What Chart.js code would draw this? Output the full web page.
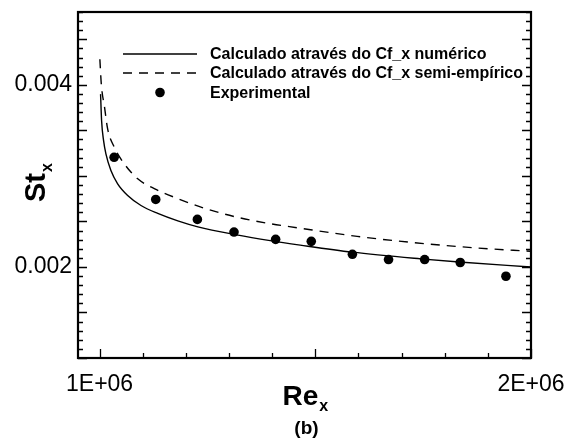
<!DOCTYPE html>
<html>
<head>
<meta charset="utf-8">
<script src="https://cdn.jsdelivr.net/npm/chart.js@4/dist/chart.umd.min.js"></script>
<style>
  html, body { margin: 0; padding: 0; background: #fff; }
  #wrap { width: 576px; height: 440px; }
</style>
</head>
<body>
<div id="wrap"><canvas id="stChart"></canvas></div>
<script>
// St_x vs Re_x
const reNum = [1.0023e6, 1.0047e6, 1.0093e6, 1.0147e6, 1.0263e6, 1.0419e6, 1.0651e6, 1.0960e6, 1.1349e6,
               1.1814e6, 1.2279e6, 1.3179e6, 1.3954e6, 1.4651e6, 1.5853e6, 1.7442e6, 1.8333e6, 2.0e6];
const stNum = [0.003898, 0.003606, 0.003387, 0.003241, 0.003059, 0.002913, 0.002785, 0.002675, 0.002588,
               0.002506, 0.002440, 0.002352, 0.002289, 0.002240, 0.002163, 0.002089, 0.002054, 0.002000];

const reSemi = [1.0007e6, 1.0040e6, 1.0116e6, 1.0186e6, 1.0342e6, 1.0574e6, 1.0884e6, 1.1279e6, 1.1744e6,
                1.2442e6, 1.3179e6, 1.3954e6, 1.4574e6, 1.5970e6, 1.7286e6, 1.8760e6, 2.0e6];
const stSemi = [0.004281, 0.004008, 0.003752, 0.003518, 0.003314, 0.003132, 0.002968, 0.002858, 0.002763,
                0.002643, 0.002547, 0.002475, 0.002431, 0.002336, 0.002267, 0.002208, 0.002172];

const reExp = [1.0337e6, 1.1302e6, 1.2267e6, 1.3116e6, 1.4081e6, 1.4907e6, 1.5860e6, 1.6698e6, 1.7535e6, 1.8360e6, 1.9419e6];
const stExp = [0.003204, 0.002741, 0.002522, 0.002383, 0.002303, 0.002281, 0.002139, 0.002081, 0.002081, 0.002049, 0.001898];

const seriesLabels = ['Calculado através do Cf_x numérico', 'Calculado através do Cf_x semi-empírico', 'Experimental'];
const xTickLabels = [1e6, 2e6];
const yTickLabels = [0.002, 0.004];

function pts(xs, ys) {
  return xs.map((x, i) => ({ x: x, y: ys[i] }));
}

function fmtX(v) {
  return (Math.round(v / 1e6)) + 'E+06';
}

// frame, inward ticks, axis titles and the legend box
const decor = {
  id: 'decor',
  afterDraw(chart) {
    const ctx = chart.ctx;
    const a = chart.chartArea;
    const xs = chart.scales.x, ys = chart.scales.y;
    ctx.save();
    ctx.strokeStyle = '#000';
    ctx.fillStyle = '#000';

    ctx.lineWidth = 1.3;
    for (let k = 10; k <= 48; k++) {
      const py = Math.round(ys.getPixelForValue(k / 10000)) + 0.5;
      const len = (k % 5 === 0) ? 9 : 5;
      ctx.beginPath();
      ctx.moveTo(a.left, py); ctx.lineTo(a.left + len, py);
      ctx.moveTo(a.right, py); ctx.lineTo(a.right - len, py);
      ctx.stroke();
    }
    for (let k = 10; k <= 20; k++) {
      const px = Math.round(xs.getPixelForValue(k * 1e5)) + 0.5;
      const len = (k % 5 === 0) ? 9 : 5;
      ctx.beginPath();
      ctx.moveTo(px, a.bottom); ctx.lineTo(px, a.bottom - len);
      ctx.stroke();
    }

    ctx.lineWidth = 2.2;
    ctx.strokeRect(a.left, a.top, a.right - a.left, a.bottom - a.top);

    // axis titles
    ctx.textAlign = 'left';
    ctx.textBaseline = 'alphabetic';
    ctx.font = 'bold 28px "Liberation Sans", Arial, sans-serif';
    const reW = ctx.measureText('Re').width;
    const cx = (a.left + a.right) / 2 + 2;
    ctx.fillText('Re', cx - 24, 405);
    ctx.font = 'bold 16px "Liberation Sans", Arial, sans-serif';
    ctx.fillText('x', cx - 24 + reW + 1, 411);
    ctx.font = 'bold 19px "Liberation Sans", Arial, sans-serif';
    ctx.textAlign = 'center';
    ctx.fillText('(b)', cx, 434);

    ctx.save();
    ctx.translate(45, 202);
    ctx.rotate(-Math.PI / 2);
    ctx.textAlign = 'left';
    ctx.font = 'bold 29px "Liberation Sans", Arial, sans-serif';
    const stW = ctx.measureText('St').width;
    ctx.fillText('St', 0, 0);
    ctx.font = 'bold 16px "Liberation Sans", Arial, sans-serif';
    ctx.fillText('x', stW + 1, 7);
    ctx.restore();

    // legend
    const rows = [54, 73, 92.5];
    ctx.font = 'bold 16px "Liberation Sans", Arial, sans-serif';
    ctx.textAlign = 'left';
    ctx.textBaseline = 'middle';
    ctx.lineWidth = 1.4;
    ctx.beginPath();
    ctx.moveTo(123, rows[0]); ctx.lineTo(197, rows[0]);
    ctx.stroke();
    ctx.setLineDash([9, 7]);
    ctx.beginPath();
    ctx.moveTo(123, rows[1]); ctx.lineTo(197, rows[1]);
    ctx.stroke();
    ctx.setLineDash([]);
    ctx.beginPath();
    ctx.arc(160, rows[2], 4.8, 0, Math.PI * 2);
    ctx.fill();
    seriesLabels.forEach((t, i) => ctx.fillText(t, 210, rows[i] + 1));
    ctx.restore();
  }
};

const config = {
  type: 'scatter',
  data: {
    datasets: [{
      label: seriesLabels[0],
      data: pts(reNum, stNum),
      showLine: true,
      borderColor: '#000',
      borderWidth: 1.4,
      pointRadius: 0,
      cubicInterpolationMode: 'monotone'
    }, {
      label: seriesLabels[1],
      data: pts(reSemi, stSemi),
      showLine: true,
      borderColor: '#000',
      borderWidth: 1.4,
      borderDash: [9, 7],
      pointRadius: 0,
      cubicInterpolationMode: 'monotone'
    }, {
      label: seriesLabels[2],
      data: pts(reExp, stExp),
      showLine: false,
      backgroundColor: '#000',
      borderColor: '#000',
      pointRadius: 4.8,
      pointBorderWidth: 0
    }]
  },
  options: {
    responsive: true,
    maintainAspectRatio: false,
    animation: false,
    layout: { padding: { left: 0, right: 45, top: 12, bottom: 0 } },
    plugins: {
      legend: { display: false },
      tooltip: { enabled: false }
    },
    scales: {
      x: {
        type: 'linear',
        min: 0.95e6,
        max: 2.0e6,
        afterFit: s => { s.height = 82; s.paddingLeft = 0; s.paddingRight = 0; },
        afterBuildTicks: s => { s.ticks = xTickLabels.map(v => ({ value: v })); },
        grid: { display: false, drawTicks: false },
        border: { display: false },
        ticks: {
          autoSkip: false,
          maxRotation: 0,
          padding: 13,
          color: '#000',
          font: { family: '"Liberation Sans", Arial, sans-serif', size: 23 },
          callback: v => fmtX(v)
        }
      },
      y: {
        type: 'linear',
        min: 0.001,
        max: 0.0048,
        afterFit: s => { s.width = 78; s.paddingTop = 0; s.paddingBottom = 0; },
        afterBuildTicks: s => { s.ticks = yTickLabels.map(v => ({ value: v })); },
        grid: { display: false, drawTicks: false },
        border: { display: false },
        ticks: {
          autoSkip: false,
          padding: 6,
          color: '#000',
          font: { family: '"Liberation Sans", Arial, sans-serif', size: 23 },
          callback: v => v.toFixed(3)
        }
      }
    }
  },
  plugins: [decor]
};

let stChart = new Chart(document.getElementById('stChart'), config);
</script>
</body>
</html>
